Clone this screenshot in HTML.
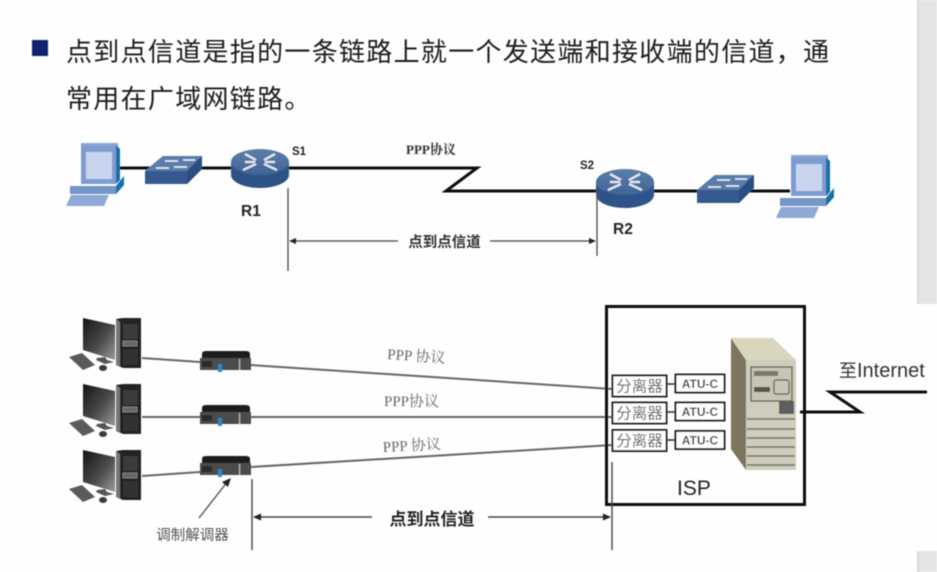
<!DOCTYPE html>
<html lang="zh"><head><meta charset="utf-8">
<style>
html,body{margin:0;padding:0;background:#fefefe;width:937px;height:572px;overflow:hidden}
svg{display:block}
.cjk{font-family:"Liberation Sans","Noto Sans CJK SC",sans-serif}
.ser{font-family:"Liberation Serif","Noto Serif CJK SC",serif}
</style></head><body>
<svg width="937" height="572" viewBox="0 0 937 572" xmlns="http://www.w3.org/2000/svg">
<defs>
<filter id="b" x="-5%" y="-5%" width="110%" height="110%"><feGaussianBlur stdDeviation="0.55"/></filter>
<linearGradient id="rt" x1="0" y1="0" x2="0" y2="1"><stop offset="0" stop-color="#5d7fa8"/><stop offset="1" stop-color="#3f6396"/></linearGradient>
<linearGradient id="mon" x1="0" y1="0" x2="1" y2="1"><stop offset="0" stop-color="#151515"/><stop offset=".55" stop-color="#4a4a4a"/><stop offset="1" stop-color="#9a9a9a"/></linearGradient>
<g id="router">
<path d="M0 13V26C0 33 13 39 29 39S58 33 58 26V13Z" fill="#2f5288"/>
<ellipse cx="29" cy="13" rx="29" ry="13" fill="url(#rt)"/>
<path d="M14 5L25 11M12 21L25 15M44 5L33 11M46 21L33 15M14 13H24M34 13H44" stroke="#e4eaf4" stroke-width="2.2" fill="none"/>
</g>
<g id="switch">
<path d="M0 15L18 0H57V13L42 28H0Z" fill="#34588f"/>
<path d="M0 15L18 0H57L42 15Z" fill="#5a7ca8"/>
<path d="M42 15L57 0V13L42 28Z" fill="#2c4e82"/>
<path d="M20 5H33M38 4H50M11 12H24M29 11H42" stroke="#eef3f9" stroke-width="1.6"/>
</g>
<g id="pc">
<path d="M15 6V1H52V6L54 38H15Z" fill="#8aa5d2"/>
<rect x="15" y="4" width="35" height="38" fill="#7f9cd0"/>
<rect x="20" y="10" width="26" height="27" fill="#c9d4ee"/>
<path d="M50 3L54 7V38L50 42Z" fill="#1270ac"/>
<path d="M4 44H50L58 34V43L50 52H4Z" fill="#7395c8"/>
<path d="M50 44L58 34V43L50 52Z" fill="#1270ac"/>
<path d="M5 53H43L38 64H0Z" fill="#8fa9d6"/>
</g>
<g id="desk">
<path d="M0 -1L32 6V41L0 31Z" fill="url(#mon)"/>
<path d="M14 39L22 38L24 41L31 43L22 45L13 41Z" fill="#555"/>
<path d="M-14 38L-1 34L12 46L0 51Z" fill="#5a5a5a"/>
<ellipse cx="20" cy="49" rx="4" ry="3" fill="#3a3a3a"/>
<path d="M33 0L40 -1H58V49H40L33 46Z" fill="#222"/>
<path d="M33 0L37 3V48L33 46Z" fill="#777"/>
<rect x="40" y="5" width="15" height="15" fill="#3a3a3a"/>
<rect x="40" y="22" width="14" height="5" fill="#666" stroke="#999" stroke-width=".7"/>
<rect x="40" y="30" width="15" height="16" fill="#333"/>
</g>
<g id="modem">
<path d="M2 3Q2 0 6 0H46Q50 0 50 3V7H2Z" fill="#1b1b1b"/>
<rect x="0" y="7" width="51" height="12" fill="#4c4c4c"/>
<rect x="2" y="10" width="10" height="6" fill="#2a2a2a"/>
<rect x="18" y="13" width="4" height="8" fill="#2c88c8"/>
<rect x="39" y="8" width="1.2" height="11" fill="#bbb"/>
</g>
</defs>

<g filter="url(#b)">
<rect x="917" y="0" width="20" height="304" fill="#e5e5e6"/>
<rect x="917" y="0" width="2" height="304" fill="#d9d9d9"/>
<rect x="917" y="551" width="20" height="21" fill="#e5e5e6"/>
<rect x="917" y="551" width="2" height="21" fill="#d9d9d9"/>

<rect x="32" y="40" width="16" height="16" fill="#0c2270"/>
<text class="cjk" x="66" y="61" font-size="26" letter-spacing="1.3" fill="#1a1a1a">点到点信道是指的一条链路上就一个发送端和接收端的信道，通</text>
<text class="cjk" x="66" y="108" font-size="26" letter-spacing="1.3" fill="#1a1a1a">常用在广域网链路。</text>

<!-- top diagram -->
<path d="M120 168H290" stroke="#111" stroke-width="3" fill="none"/>
<path d="M288 168H477L446 191H597" stroke="#111" stroke-width="3" fill="none"/>
<path d="M650 191H790" stroke="#111" stroke-width="3" fill="none"/>
<use href="#pc" x="66" y="142"/>
<use href="#switch" x="145" y="156"/>
<use href="#router" x="231" y="149"/>
<use href="#router" x="596" y="169"/>
<use href="#switch" x="697" y="175"/>
<use href="#pc" x="776" y="154"/>
<text class="cjk" x="292" y="155" font-size="11.5" font-weight="700" fill="#222">S1</text>
<text class="cjk" x="580" y="169" font-size="11.5" font-weight="700" fill="#222">S2</text>
<text class="cjk" x="241" y="216" font-size="15.500" font-weight="700" fill="#222">R1</text>
<text class="cjk" x="613" y="234" font-size="15.500" font-weight="700" fill="#222">R2</text>
<text class="ser" x="406" y="154" font-size="13" font-weight="700" fill="#333">PPP协议</text>

<path d="M288 188V271M597 191V256" stroke="#555" stroke-width="1.4" fill="none"/>
<path d="M291 241H398M490 241H594" stroke="#444" stroke-width="1.2" fill="none"/>
<path d="M289 241L296 238V244ZM596 241L589 238V244Z" fill="#222"/>
<text class="cjk" x="444.500" y="247" font-size="14.500" font-weight="700" text-anchor="middle" fill="#333">点到点信道</text>

<!-- bottom diagram -->
<path d="M142 358L200 362M251 365L612 389M142 417H612M142 476L200 472M251 467L612 445" stroke="#666" stroke-width="2" fill="none"/>
<use href="#desk" x="83" y="319"/>
<use href="#desk" x="83" y="385"/>
<use href="#desk" x="83" y="451"/>
<use href="#modem" x="200" y="351"/>
<use href="#modem" x="200" y="405"/>
<use href="#modem" x="200" y="456"/>
<path d="M199 518L228 481" stroke="#555" stroke-width="1.4"/>
<path d="M231 478L222 482L228 487Z" fill="#222"/>
<text class="cjk" x="192.500" y="540" font-size="14.500" text-anchor="middle" fill="#555">调制解调器</text>
<text class="ser" font-size="15" fill="#666" transform="translate(387 359) rotate(4)">PPP 协议</text>
<text class="ser" font-size="15" fill="#666" x="384" y="406">PPP协议</text>
<text class="ser" font-size="15" fill="#666" transform="translate(383 452) rotate(-3)">PPP 协议</text>

<rect x="606.500" y="306.500" width="198" height="198" fill="none" stroke="#111" stroke-width="3"/>
<path d="M612 462V550M252 479V550" stroke="#444" stroke-width="1.4" fill="none"/>
<path d="M255 517H372M488 517H609" stroke="#444" stroke-width="1.6" fill="none"/>
<path d="M253 517L261 513.500V520.500ZM611 517L603 513.500V520.500Z" fill="#222"/>
<text class="cjk" x="432" y="525" font-size="17" font-weight="700" text-anchor="middle" fill="#222">点到点信道</text>

<g fill="#fff" stroke="#222" stroke-width="2">
<rect x="612.500" y="375.500" width="54" height="21"/>
<rect x="612.500" y="402.500" width="54" height="21"/>
<rect x="612.500" y="430" width="54" height="21"/>
<rect x="675.500" y="374.500" width="49" height="18"/>
<rect x="675.500" y="402.500" width="49" height="18"/>
<rect x="675.500" y="431" width="49" height="18"/>
</g>
<path d="M667 384H675M667 412H675M667 440H675" stroke="#333" stroke-width="1.500"/>
<g class="cjk" font-size="15.500" fill="#555" text-anchor="middle">
<text x="639.500" y="391.500">分离器</text>
<text x="639.500" y="418.500">分离器</text>
<text x="639.500" y="446">分离器</text>
</g>
<g class="cjk" font-size="12" font-weight="700" fill="#444" text-anchor="middle">
<text x="700" y="388">ATU-C</text>
<text x="700" y="416">ATU-C</text>
<text x="700" y="444.500">ATU-C</text>
</g>

<!-- server -->
<path d="M731 338V449L746 470V360Z" fill="#7d7461"/>
<path d="M731 338H773L796 360H746Z" fill="#d9d6bd"/>
<rect x="746" y="360" width="50" height="110" fill="#cfcdbc"/>
<rect x="751" y="367" width="41" height="34" fill="#c7c5b4" stroke="#4c4c46" stroke-width="1.200"/>
<rect x="754" y="371" width="24" height="5" fill="#77766f"/>
<rect x="754" y="387" width="16" height="5" fill="#55544f"/>
<rect x="774" y="380" width="15" height="14" fill="#c9c7b6" stroke="#555" stroke-width="1.200" rx="2"/>
<rect x="779" y="401" width="15" height="13" fill="#5e5d62"/>
<path d="M747 419H795M747 429H795M747 438H795M747 447H795M747 456H795M747 465H795" stroke="#6e6d62" stroke-width="1.400"/>

<path d="M800 412H860L830 392H927" stroke="#111" stroke-width="3" fill="none"/>
<text class="cjk" x="839" y="377" fill="#333"><tspan font-size="18">至</tspan><tspan font-size="20">Internet</tspan></text>
<text class="cjk" x="677" y="495" font-size="21" fill="#222">ISP</text>
</g>
</svg>
</body></html>
